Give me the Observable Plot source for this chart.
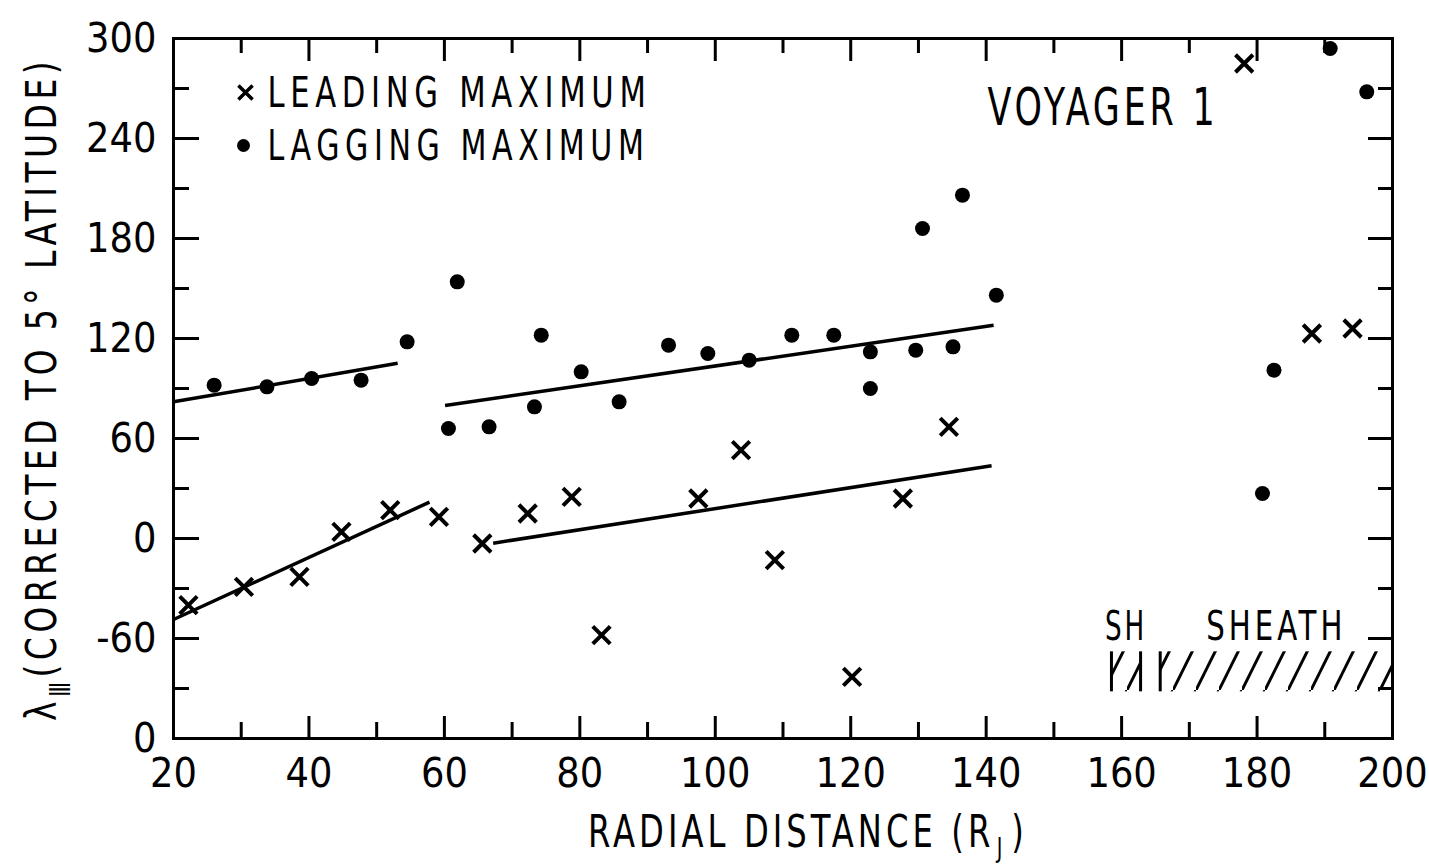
<!DOCTYPE html>
<html><head><meta charset="utf-8">
<script src="https://cdn.jsdelivr.net/npm/d3@7"></script>
<script src="https://cdn.jsdelivr.net/npm/@observablehq/plot@0.6"></script>
<style>
body{margin:0;background:#fff;}
#chart svg{display:block;}
</style>
</head><body><div id="chart"></div>
<script>
// ---- data ----
const leadingX = [22.2, 30.4, 38.6, 44.8, 52.0, 59.2, 65.6, 72.3, 78.8, 83.2, 97.5, 103.8, 108.8, 120.2, 127.7, 134.5, 178.1, 188.1, 194.1];
const leadingY = [-40, -29, -23, 4, 17, 13, -3, 15, 25, -58, 24, 53, -13, -83, 24, 67, 285, 123, 126];
const laggingX = [26.0, 33.8, 40.4, 47.7, 54.5, 61.9, 60.6, 66.6, 73.3, 74.3, 80.2, 85.8, 93.1, 98.9, 105.0, 111.3, 117.5, 122.9, 122.9, 129.6, 135.1, 130.6, 136.5, 141.5, 182.5, 180.8, 196.2, 190.8];
const laggingY = [92, 91, 96, 95, 118, 154, 66, 67, 79, 122, 100, 82, 116, 111, 107, 122, 122, 112, 90, 113, 115, 186, 206, 146, 101, 27, 268, 294];
// fitted lines: lagging 20-53, leading 20-58, lagging 60-141, leading 67-141
const fitX1 = [20.0, 20.0, 60.1, 67.2];
const fitY1 = [82.0, -48.6, 79.8, -2.8];
const fitX2 = [53.1, 57.8, 141.1, 140.8];
const fitY2 = [105.1, 21.8, 127.9, 43.7];
// magnetosheath intervals
const sheathLabels = ["SH", "SHEATH"];
const sheathStart = [158.5, 165.7];
const sheathEnd = [162.8, 200];
const sheathLow = [-92, -92];
const sheathHigh = [-68, -68];
// ticks
const xTicks = [20, 40, 60, 80, 100, 120, 140, 160, 180, 200];
const xMinorTicks = [30, 50, 70, 90, 110, 130, 150, 170, 190];
const yTicks = [300, 240, 180, 120, 60, 0, -60, -120];
const yTickLabels = ["300", "240", "180", "120", "60", "0", "-60", "0"];
const yMinorTicks = [270, 210, 150, 90, 30, -30, -90];
const legendLabels = ["LEADING MAXIMUM", "LAGGING MAXIMUM"];
const titleText = "VOYAGER 1";
const xLabelMain = "RADIAL DISTANCE (R";
const xLabelSub = "J";
const xLabelEnd = ")";
const yLabelMain = "λ";
const yLabelSub = "Ⅲ";
const yLabelRest = "(CORRECTED TO 5° LATITUDE)";

// ---- tables ----
const leading = leadingX.map((x, i) => ({x, y: leadingY[i]}));
const lagging = laggingX.map((x, i) => ({x, y: laggingY[i]}));
const fits = fitX1.map((x1, i) => ({x1, y1: fitY1[i], x2: fitX2[i], y2: fitY2[i]}));
const sheath = sheathLabels.map((label, i) => ({label, x1: sheathStart[i], x2: sheathEnd[i], y1: sheathLow[i], y2: sheathHigh[i]}));
const sheathEdges = [sheath[0].x1, sheath[0].x2, sheath[1].x1];

const W = 1429, H = 865;
const mL = 173, mR = 37, mT = 38, mB = 127;
const fw = W - mL - mR, fh = H - mT - mB;
const FONT = "'DejaVu Sans Condensed', 'Liberation Sans', 'DejaVu Sans', sans-serif";

const svg = Plot.plot({
  width: W, height: H,
  marginLeft: mL, marginRight: mR, marginTop: mT, marginBottom: mB,
  style: {fontFamily: FONT, fontSize: "41px", color: "black", background: "white", overflow: "visible"},
  x: {domain: [20, 200], ticks: xTicks, tickFormat: d => String(d), tickSize: 0, tickPadding: 19, label: null},
  y: {domain: [-120, 300], ticks: yTicks, tickFormat: d => yTickLabels[yTicks.indexOf(d)], tickSize: 0, tickPadding: 17, label: null},
  marks: [
    Plot.rect(sheath, {x1: "x1", x2: "x2", y1: "y1", y2: "y2", fill: "url(#hatch)"}),
    Plot.ruleX(sheathEdges, {x: d => d, y1: sheathLow[0], y2: sheathHigh[0], stroke: "black", strokeWidth: 3}),
    Plot.text(sheath, {x: d => (d.x1 + d.x2) / 2, y: "y2", text: "label", lineAnchor: "bottom", dy: -12, fontSize: 41}),
    // inward ticks
    Plot.ruleX(xTicks, {x: d => d, insetTop: fh - 22, stroke: "black", strokeWidth: 3}),
    Plot.ruleX(xMinorTicks, {x: d => d, insetTop: fh - 16, stroke: "black", strokeWidth: 3}),
    Plot.ruleX(xTicks, {x: d => d, insetBottom: fh - 23, stroke: "black", strokeWidth: 3}),
    Plot.ruleX(xMinorTicks, {x: d => d, insetBottom: fh - 15, stroke: "black", strokeWidth: 3}),
    Plot.ruleY(yTicks, {y: d => d, insetRight: fw - 26, stroke: "black", strokeWidth: 3}),
    Plot.ruleY(yMinorTicks, {y: d => d, insetRight: fw - 16, stroke: "black", strokeWidth: 3}),
    Plot.ruleY(yTicks, {y: d => d, insetLeft: fw - 24, stroke: "black", strokeWidth: 3}),
    Plot.ruleY(yMinorTicks, {y: d => d, insetLeft: fw - 14, stroke: "black", strokeWidth: 3}),
    Plot.frame({stroke: "black", strokeWidth: 3}),
    // fitted lines
    Plot.link(fits, {x1: "x1", y1: "y1", x2: "x2", y2: "y2", stroke: "black", strokeWidth: 3.5}),
    // data
    Plot.dot(leading, {x: "x", y: "y", symbol: "times", r: 8, stroke: "black", strokeWidth: 4}),
    Plot.dot(lagging, {x: "x", y: "y", symbol: "circle", r: 7.5, fill: "black", stroke: "none"}),
    // legend
    Plot.dot([legendLabels[0]], {frameAnchor: "top-left", dx: 72, dy: 54, symbol: "times", r: 6.5, stroke: "black", strokeWidth: 3.5}),
    Plot.text([legendLabels[0]], {frameAnchor: "top-left", dx: 94, dy: 55, textAnchor: "start", lineAnchor: "middle", fontSize: 42}),
    Plot.dot([legendLabels[1]], {frameAnchor: "top-left", dx: 70, dy: 107, symbol: "circle", r: 6.5, fill: "black", stroke: "none"}),
    Plot.text([legendLabels[1]], {frameAnchor: "top-left", dx: 94, dy: 108, textAnchor: "start", lineAnchor: "middle", fontSize: 42}),
    // title
    Plot.text([titleText], {frameAnchor: "top-right", dx: -174, dy: 50, textAnchor: "end", lineAnchor: "top", fontSize: 51})
  ]
});

const s = d3.select(svg);

// hatch pattern for sheath regions
const defs = s.insert("defs", ":first-child");
const pat = defs.append("pattern").attr("id", "hatch").attr("patternUnits", "userSpaceOnUse")
  .attr("width", 23).attr("height", 46);
pat.append("path").attr("d", "M-5,56L28,-10").attr("stroke", "black").attr("stroke-width", 3).attr("fill", "none");

// narrow, widely spaced lettering (like a lettering guide)
function letter(sel, len, ls) {
  sel.style("letter-spacing", ls + "px").attr("textLength", len).attr("lengthAdjust", "spacingAndGlyphs");
}
function spread(str, len, ls) {
  letter(s.selectAll("text").filter(function () { return this.textContent === str; }), len, ls);
}
spread(legendLabels[0], 384, 7);
spread(legendLabels[1], 382, 7);
spread(titleText, 231, 5);
spread(sheathLabels[0], 42, 4);
spread(sheathLabels[1], 140, 5);

// axis titles with subscripts (one text element each)
const xt = s.append("text").attr("text-anchor", "start").attr("x", 588).attr("y", 847).style("font-size", "44px");
xt.append("tspan").text(xLabelMain);
xt.append("tspan").attr("dx", 3).attr("dy", 10).style("font-size", "26px").text(xLabelSub);
xt.append("tspan").attr("dx", 6).attr("dy", -10).text(xLabelEnd);
letter(xt, 440, 5);

const yt = s.append("text").attr("text-anchor", "start").attr("transform", "translate(56,0) rotate(-90)")
  .attr("x", -721).attr("y", 0).style("font-size", "42px");
yt.append("tspan").text(yLabelMain);
yt.append("tspan").attr("dy", 14).style("font-size", "28px").text(yLabelSub);
yt.append("tspan").attr("dy", -14).text(yLabelRest);
letter(yt, 664, 5);

document.getElementById("chart").appendChild(svg);
</script>
</body></html>
